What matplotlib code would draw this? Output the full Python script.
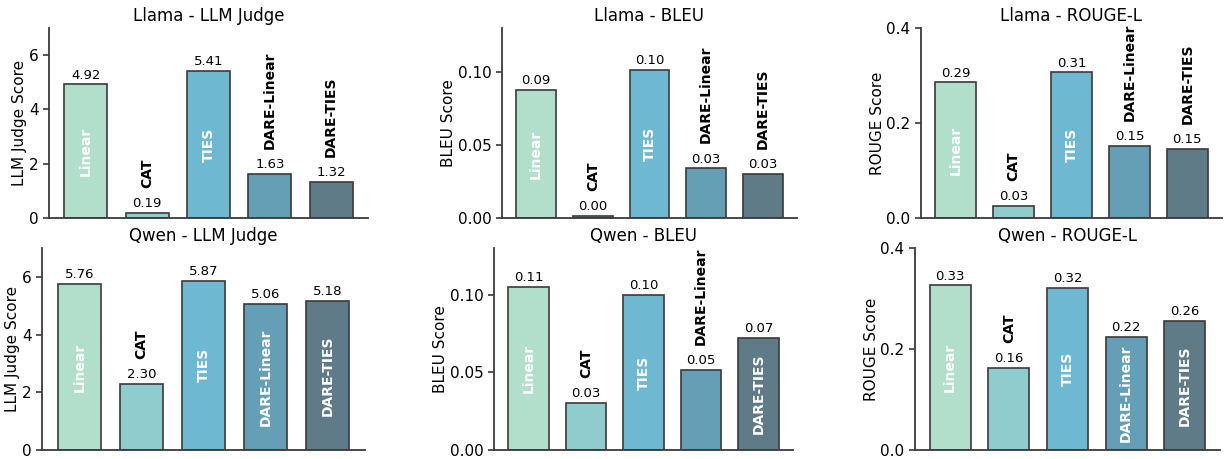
import matplotlib
matplotlib.use("Agg")
import matplotlib.pyplot as plt

# merge methods and scores
methods = ["Linear", "CAT", "TIES", "DARE-Linear", "DARE-TIES"]
colors = ["#b2dfcc", "#90cbcd", "#6fb8d2", "#659fb6", "#5f7b87"]

llama_judge = [4.92, 0.19, 5.41, 1.63, 1.32]
llama_bleu = [0.0877, 0.0015, 0.1012, 0.0339, 0.0302]
llama_rouge = [0.2855, 0.026, 0.3066, 0.152, 0.146]
qwen_judge = [5.76, 2.30, 5.87, 5.06, 5.18]
qwen_bleu = [0.1052, 0.0303, 0.0998, 0.0518, 0.0723]
qwen_rouge = [0.3258, 0.1623, 0.3212, 0.2238, 0.2556]

titles = [
    ["Llama - LLM Judge", "Llama - BLEU", "Llama - ROUGE-L"],
    ["Qwen - LLM Judge", "Qwen - BLEU", "Qwen - ROUGE-L"],
]
ylabels = ["LLM Judge Score", "BLEU Score", "ROUGE Score"]
ylims = [7, 0.13, 0.4]
yticks = [[0, 2, 4, 6], [0.0, 0.05, 0.10], [0.0, 0.2, 0.4]]
ytick_fmt = ["{:.0f}", "{:.2f}", "{:.1f}"]
data = [[llama_judge, llama_bleu, llama_rouge], [qwen_judge, qwen_bleu, qwen_rouge]]

W, H = 1225, 459
# axes boxes in pixels: (left, top, right, bottom)
boxes = [
    [(49, 28, 368, 218), (502, 28, 797, 218), (921, 28, 1222, 218)],
    [(42, 248, 365, 450), (494, 248, 793, 450), (915, 248, 1220, 450)],
]

fig = plt.figure(figsize=(W / 100, H / 100), dpi=100)
edge = "#3a3a3a"

for r in range(2):
    for c in range(3):
        l, t, rr, b = boxes[r][c]
        ax = fig.add_axes([l / W, 1 - b / H, (rr - l) / W, (b - t) / H])
        vals = data[r][c]
        x = list(range(len(methods)))
        ax.bar(x, vals, width=0.7, color=colors, edgecolor=edge, linewidth=1.2)
        ax.set_xlim(-0.6, 4.6)
        ax.set_ylim(0, ylims[c])
        ax.set_xticks([])
        ax.set_yticks(yticks[c])
        ax.set_yticklabels([ytick_fmt[c].format(v) for v in yticks[c]])
        ax.tick_params(axis="y", labelsize=11, length=4, width=1.2, color=edge)
        for side in ["top", "right"]:
            ax.spines[side].set_visible(False)
        for side in ["left", "bottom"]:
            ax.spines[side].set_color(edge)
            ax.spines[side].set_linewidth(1.3)
        ax.set_title(titles[r][c], fontsize=12, pad=5)
        ax.set_ylabel(ylabels[c], fontsize=11, labelpad=1)

        for xi, v, name in zip(x, vals, methods):
            ax.annotate(f"{v:.2f}", (xi, v), xytext=(0, 2), textcoords="offset points",
                        ha="center", va="bottom", fontsize=9.5)
            if v > 0.5 * ylims[c]:
                ax.text(xi, v / 2, name, rotation=90, ha="center", va="center",
                        color="white", fontweight="bold", fontsize=10)
            else:
                ax.annotate(name, (xi, v), xytext=(0, 18), textcoords="offset points",
                            rotation=90, ha="center", va="bottom",
                            fontweight="bold", fontsize=10)

fig.savefig("out.png", dpi=100)
